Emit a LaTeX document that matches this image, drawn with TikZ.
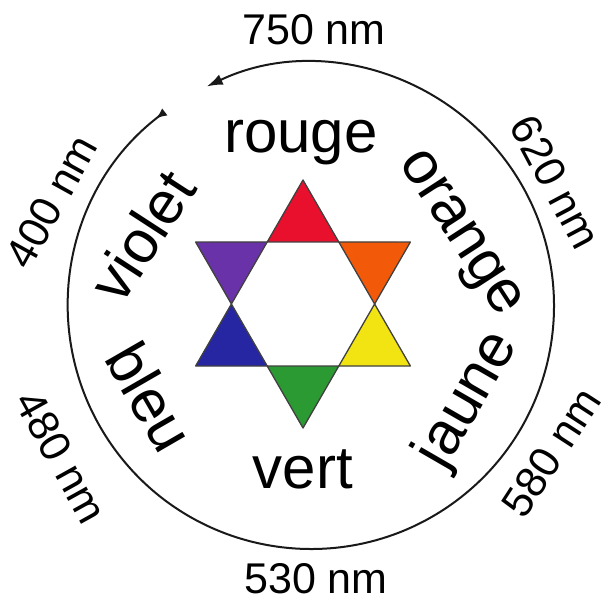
\documentclass[tikz,border=0pt]{standalone}
\usepackage{fontspec}
\setmainfont{Liberation Sans}
\usetikzlibrary{arrows.meta}
\definecolor{cred}{HTML}{E8102C}
\definecolor{corange}{HTML}{F25A0A}
\definecolor{cyellow}{HTML}{F2E412}
\definecolor{cgreen}{HTML}{2C9A32}
\definecolor{cblue}{HTML}{2626A2}
\definecolor{cviolet}{HTML}{6A32A8}
\tikzset{
  lab/.style={font=\fontsize{60}{70}\selectfont, inner sep=0pt, text height=43pt, text depth=12pt},
  nm/.style={font=\fontsize{43}{50}\selectfont, inner sep=0pt, text height=31pt, text depth=0pt},
  tri/.style={draw=black!75, line width=1.3pt, line join=round},
  circ/.style={draw=black!90, line width=2pt}
}
\begin{document}
\begin{tikzpicture}[x=1pt,y=1pt]
\useasboundingbox (0,0) rectangle (601,598);
\coordinate (C) at (311,292);
\coordinate (S) at (303,294);
% circle with gap and arrows
\draw[circ, {Latex[reversed,length=11pt,width=9pt]}-{Latex[length=16pt,width=11pt]}]
  (C) ++(127:243) arc[start angle=127, end angle=475.4, radius=243];
% star
\begin{scope}[shift={(S)}]
\fill[white] (0:71.6) -- (60:71.6) -- (120:71.6) -- (180:71.6) -- (240:71.6) -- (300:71.6) -- cycle;
\filldraw[tri, fill=cred]    (90:124)  -- (60:71.6)  -- (120:71.6) -- cycle;
\filldraw[tri, fill=corange] (30:124)  -- (0:71.6)   -- (60:71.6)  -- cycle;
\filldraw[tri, fill=cyellow] (-30:124) -- (0:71.6)   -- (-60:71.6) -- cycle;
\filldraw[tri, fill=cgreen]  (-90:124) -- (240:71.6) -- (300:71.6) -- cycle;
\filldraw[tri, fill=cblue]   (210:124) -- (180:71.6) -- (240:71.6) -- cycle;
\filldraw[tri, fill=cviolet] (150:124) -- (120:71.6) -- (180:71.6) -- cycle;
\end{scope}
% colour names
\node[lab, anchor=base] (rouge) at (301,445) {rouge};
\node[lab, anchor=base] (vert) at (303,110) {vert};
\node[lab, rotate=57] (violet) at (147,359) {violet};
\node[lab, rotate=-57] (orange) at (462,366) {orange};
\node[lab, rotate=60] (jaune) at (468,198) {jaune};
\node[lab, rotate=-60] (bleu) at (145,198) {bleu};
% wavelengths
\node[nm, anchor=base] (n750) at (314,553) {750 nm};
\node[nm, anchor=base] (n530) at (316,5) {530 nm};
\node[nm, rotate=-62] (n620) at (556,416) {620 nm};
\node[nm, rotate=57] (n580) at (551,146) {580 nm};
\node[nm, rotate=-61] (n480) at (62,141) {480 nm};
\node[nm, rotate=61] (n400) at (51,397) {400 nm};
\end{tikzpicture}
\end{document}
